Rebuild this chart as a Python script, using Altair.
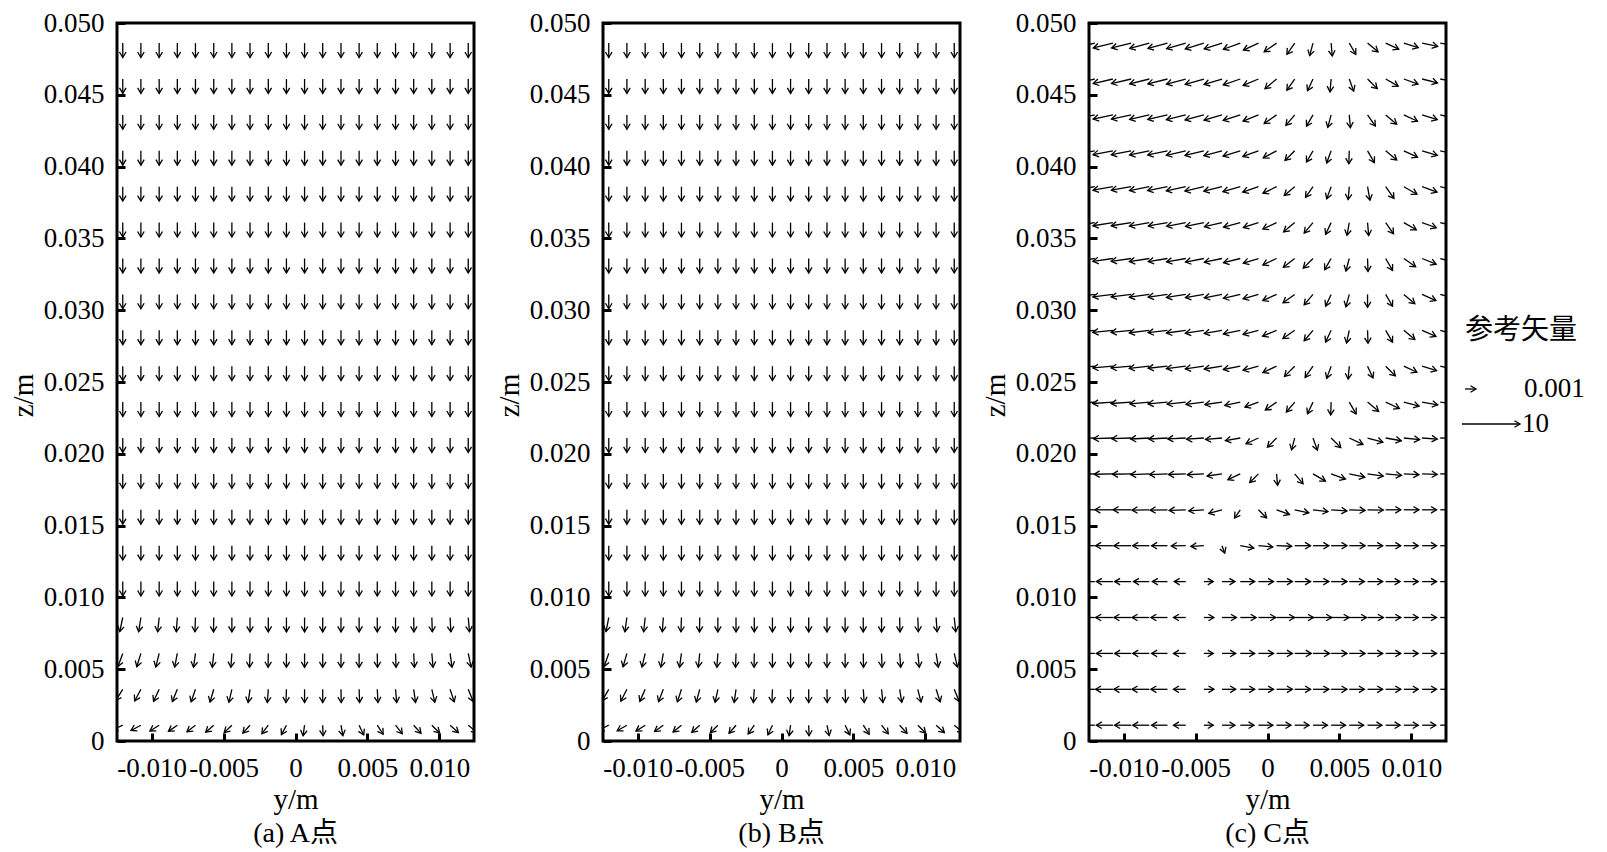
import altair as alt
import numpy as np
import pandas as pd

# ---------------- grid / axes ----------------
Y_COLS = [-0.01200, -0.01074, -0.00947, -0.00821, -0.00695, -0.00568, -0.00442, -0.00316, -0.00189, -0.00063,
          0.00063, 0.00189, 0.00316, 0.00442, 0.00568, 0.00695, 0.00821, 0.00947, 0.01074, 0.01200]
Z_ROWS = [0.0011, 0.0036, 0.0061, 0.0086, 0.0111, 0.0136, 0.0161, 0.0186, 0.0211, 0.0236,
          0.0261, 0.0286, 0.0311, 0.0336, 0.0361, 0.0386, 0.0411, 0.0436, 0.0461, 0.0486]
X_TICKS = [-0.010, -0.005, 0.0, 0.005, 0.010]
Z_TICKS = [0.0, 0.005, 0.010, 0.015, 0.020, 0.025, 0.030, 0.035, 0.040, 0.045, 0.050]
X_DOMAIN = [-0.0124, 0.0124]
Z_DOMAIN = [0.0, 0.05]
UNIT = 0.001  # plot length (m) of one unit of arrow magnitude

CAPTIONS = ["(a) A点", "(b) B点", "(c) C点"]
X_TITLE = "y/m"
Z_TITLE = "z/m"
LEGEND_TITLE = ["参考矢量"]
REF_LABELS = ["0.001", "10"]

# ---------------- vector directions (deg, 0 = +y, 90 = +z) and magnitudes ----------------
# rows listed from bottom (z = 0.0011) to top (z = 0.0486)
DOWN = [270, 270, 270, 270, 270, 270, 270, 270, 270, 270, 270, 270, 270, 270, 270, 270, 270, 270, 270, 270]
ONE = [1.0, 1.0, 1.0, 1.0, 1.0, 1.0, 1.0, 1.0, 1.0, 1.0, 1.0, 1.0, 1.0, 1.0, 1.0, 1.0, 1.0, 1.0, 1.0, 1.0]

A_ANG = [
    [205, 208, 212, 215, 218, 221, 224, 228, 233, 242, 262, 272, 280, 295, 303, 308, 312, 315, 318, 320],
    [238, 242, 245, 248, 251, 254, 257, 262, 266, 268, 270, 270, 271, 272, 273, 275, 278, 283, 288, 292],
    [250, 253, 256, 259, 262, 264, 266, 268, 269, 270, 270, 270, 270, 270, 271, 272, 273, 275, 278, 282],
    [258, 261, 264, 266, 268, 269, 270, 270, 270, 270, 270, 270, 270, 270, 270, 270, 271, 272, 273, 275],
] + [DOWN] * 16
A_LEN = [
    [0.80, 0.78, 0.76, 0.75, 0.75, 0.74, 0.74, 0.74, 0.74, 0.74, 0.74, 0.74, 0.74, 0.75, 0.75, 0.76, 0.76, 0.77, 0.78, 0.80],
    [0.92, 0.92, 0.92, 0.92, 0.92, 0.92, 0.92, 0.92, 0.92, 0.92, 0.92, 0.92, 0.92, 0.92, 0.92, 0.92, 0.92, 0.92, 0.92, 0.92],
    [0.97, 0.97, 0.97, 0.97, 0.97, 0.97, 0.97, 0.97, 0.97, 0.97, 0.97, 0.97, 0.97, 0.97, 0.97, 0.97, 0.97, 0.97, 0.97, 0.97],
] + [ONE] * 17

B_ANG = [
    [207, 210, 213, 216, 219, 222, 225, 229, 235, 245, 262, 272, 282, 296, 303, 308, 312, 315, 318, 321],
    [240, 243, 246, 249, 252, 255, 258, 262, 266, 268, 270, 270, 271, 272, 274, 276, 279, 284, 288, 292],
    [251, 254, 257, 260, 262, 264, 266, 268, 269, 270, 270, 270, 270, 270, 271, 272, 274, 276, 279, 283],
    [259, 262, 264, 266, 268, 269, 270, 270, 270, 270, 270, 270, 270, 270, 270, 270, 271, 272, 274, 276],
] + [DOWN] * 16
B_LEN = A_LEN

C_ANG = [
    [180, 180, 180, 180, 180, 180, 0, 0, 0, 0, 0, 0, 0, 0, 0, 0, 0, 0, 0, 0],
    [180, 180, 180, 180, 180, 180, 0, 0, 0, 0, 0, 0, 0, 0, 0, 0, 0, 0, 0, 0],
    [180, 180, 180, 180, 180, 180, 0, 0, 0, 0, 0, 0, 0, 0, 0, 0, 0, 0, 0, 0],
    [180, 180, 180, 180, 180, 180, 0, 0, 0, 0, 0, 0, 0, 0, 0, 0, 0, 0, 0, 0],
    [180, 180, 180, 180, 180, 180, 0, 0, 0, 0, 0, 0, 0, 0, 0, 0, 0, 0, 0, 0],
    [180, 180, 180, 180, 180, 181, 183, 290, 350, 355, 358, 0, 0, 0, 0, 0, 0, 0, 0, 0],
    [180, 180, 180, 181, 181, 182, 184, 195, 235, 315, 340, 348, 353, 356, 358, 359, 0, 0, 0, 0],
    [181, 181, 181, 182, 182, 182, 183, 188, 205, 225, 275, 310, 330, 340, 348, 352, 355, 357, 358, 359],
    [182, 182, 182, 183, 183, 183, 184, 185, 190, 205, 225, 255, 290, 315, 335, 345, 350, 354, 356, 358],
    [184, 184, 184, 185, 185, 186, 187, 188, 192, 200, 215, 230, 245, 268, 300, 320, 335, 345, 350, 352],
    [185, 185, 185, 186, 186, 187, 188, 189, 191, 195, 205, 225, 235, 250, 265, 295, 315, 335, 343, 347],
    [186, 186, 186, 187, 187, 188, 189, 190, 192, 195, 203, 215, 230, 245, 258, 272, 300, 320, 336, 344],
    [187, 187, 187, 188, 188, 189, 190, 191, 193, 196, 204, 216, 230, 245, 255, 270, 300, 320, 336, 344],
    [188, 188, 188, 189, 189, 190, 191, 192, 194, 197, 205, 218, 225, 240, 255, 272, 300, 325, 338, 345],
    [189, 189, 189, 190, 190, 191, 192, 193, 195, 198, 205, 220, 230, 245, 260, 275, 305, 330, 340, 346],
    [190, 190, 190, 191, 191, 192, 193, 194, 196, 199, 206, 220, 235, 250, 265, 280, 305, 330, 340, 346],
    [191, 191, 191, 192, 192, 193, 194, 195, 197, 200, 208, 225, 240, 250, 268, 300, 320, 335, 343, 347],
    [192, 192, 192, 193, 193, 194, 195, 196, 198, 202, 215, 230, 240, 255, 275, 305, 320, 335, 343, 347],
    [193, 193, 193, 194, 194, 195, 196, 197, 199, 203, 220, 235, 245, 265, 290, 315, 330, 340, 346, 349],
    [194, 194, 194, 195, 195, 196, 197, 198, 200, 205, 215, 235, 255, 275, 300, 320, 335, 343, 348, 350],
]
TOP_LEN = [1.40, 1.40, 1.40, 1.40, 1.40, 1.38, 1.35, 1.30, 1.25, 1.15, 1.05, 0.95, 0.90, 0.90, 0.90, 0.95, 1.00, 1.05, 1.10, 1.15]
MID_LEN = [1.40, 1.40, 1.40, 1.40, 1.35, 1.35, 1.30, 1.25, 1.20, 1.10, 1.05, 1.00, 0.95, 0.90, 0.90, 0.90, 0.95, 1.00, 1.05, 1.10]
C_LEN = [
    [1.15, 1.15, 1.15, 1.15, 1.10, 0.85, 0.65, 0.90, 0.95, 1.00, 1.00, 1.00, 1.00, 1.00, 1.00, 1.00, 1.00, 1.00, 0.95, 0.95],
    [1.20, 1.20, 1.20, 1.20, 1.15, 0.85, 0.70, 0.95, 1.00, 1.05, 1.10, 1.10, 1.10, 1.10, 1.05, 1.05, 1.05, 1.00, 1.00, 1.00],
    [1.15, 1.15, 1.15, 1.15, 1.10, 0.85, 0.65, 0.95, 1.00, 1.05, 1.10, 1.15, 1.15, 1.10, 1.10, 1.05, 1.05, 1.00, 1.00, 1.00],
    [1.20, 1.20, 1.20, 1.20, 1.15, 0.85, 0.70, 1.00, 1.10, 1.20, 1.25, 1.30, 1.30, 1.25, 1.20, 1.10, 1.05, 1.00, 1.00, 1.00],
    [1.15, 1.15, 1.15, 1.10, 1.05, 0.80, 0.65, 0.90, 1.00, 1.05, 1.10, 1.10, 1.10, 1.10, 1.05, 1.05, 1.00, 1.00, 1.00, 0.95],
    [1.20, 1.20, 1.20, 1.15, 1.10, 1.00, 0.90, 0.55, 0.95, 1.00, 1.05, 1.10, 1.10, 1.10, 1.10, 1.05, 1.05, 1.00, 1.00, 1.00],
    [1.25, 1.25, 1.25, 1.20, 1.20, 1.15, 1.05, 0.95, 0.70, 0.80, 0.95, 1.00, 1.05, 1.10, 1.10, 1.10, 1.05, 1.05, 1.00, 1.00],
    [1.30, 1.30, 1.30, 1.30, 1.25, 1.20, 1.15, 1.05, 0.95, 0.85, 0.80, 0.90, 1.00, 1.05, 1.10, 1.10, 1.10, 1.05, 1.05, 1.00],
    [1.35, 1.35, 1.35, 1.30, 1.30, 1.25, 1.20, 1.15, 1.05, 0.95, 0.90, 0.85, 0.90, 0.95, 1.05, 1.10, 1.10, 1.10, 1.05, 1.05],
    [1.40, 1.40, 1.40, 1.35, 1.35, 1.30, 1.25, 1.20, 1.10, 1.00, 0.95, 0.90, 0.90, 0.90, 0.95, 1.00, 1.05, 1.10, 1.10, 1.10],
    MID_LEN, MID_LEN, MID_LEN, MID_LEN, MID_LEN,
    TOP_LEN, TOP_LEN, TOP_LEN, TOP_LEN, TOP_LEN,
]

HEAD = "M-1,-0.6L0,0L-1,0.6"
FONT = "Liberation Serif, Noto Sans CJK SC"
FS = 27
SW = 1.3


def vectors(ang_rows, len_rows):
    recs = []
    for j, z in enumerate(Z_ROWS):
        for i, y in enumerate(Y_COLS):
            a = ang_rows[j][i]
            L = len_rows[j][i] * UNIT
            r = np.deg2rad(a)
            recs.append(dict(y0=y, z0=z, y1=y + L * np.cos(r), z1=z + L * np.sin(r),
                             rot=(360 - a) % 360))
    return pd.DataFrame(recs)


x_axis = alt.Axis(values=X_TICKS, grid=False, domain=False, tickColor="black", tickWidth=3,
                  tickSize={"expr": "-8"}, labelFont=FONT, labelFontSize=FS, labelColor="black",
                  labelPadding=22, labelOverlap=False,
                  labelExpr="datum.value == 0 ? '0' : (datum.value < 0 ? '-' : '') + format(abs(datum.value), '.3f')",
                  titleFont=FONT, titleFontSize=29, titleFontWeight="normal", titleColor="black",
                  titlePadding=4)
z_axis = alt.Axis(values=Z_TICKS, grid=False, domain=False, tickColor="black", tickWidth=3,
                  tickSize={"expr": "-8"}, labelFont=FONT, labelFontSize=FS, labelColor="black",
                  labelPadding=21, labelOverlap=False,
                  labelExpr="datum.value == 0 ? '0' : format(datum.value, '.3f')",
                  titleFont=FONT, titleFontSize=29, titleFontWeight="normal", titleColor="black",
                  titlePadding=5, titleY=372)
xs = alt.Scale(domain=X_DOMAIN, nice=False, zero=False)
zs = alt.Scale(domain=Z_DOMAIN, nice=False, zero=False)


def panel(ang_rows, len_rows, caption, legend=False):
    df = vectors(ang_rows, len_rows)
    base = alt.Chart(df)
    shafts = base.mark_rule(color="black", strokeWidth=SW, clip=True).encode(
        x=alt.X("y0:Q", scale=xs, axis=x_axis, title=X_TITLE),
        y=alt.Y("z0:Q", scale=zs, axis=z_axis, title=Z_TITLE),
        x2="y1:Q", y2="z1:Q")
    heads = base.mark_point(shape=HEAD, filled=False, size=120, color="black", strokeWidth=SW,
                            opacity=1, clip=True).encode(
        x=alt.X("y1:Q", title=X_TITLE), y=alt.Y("z1:Q", title=Z_TITLE),
        angle=alt.Angle("rot:Q", scale=None))
    layers = [shafts, heads]
    if legend:
        t = alt.Chart(pd.DataFrame({"t": LEGEND_TITLE})).mark_text(
            align="left", baseline="middle", font="Noto Sans CJK SC", fontSize=28, color="black").encode(
            text="t:N", x=alt.value(376), y=alt.value(308))
        lab = pd.DataFrame({"t": REF_LABELS, "k": [0, 1]})
        l1 = alt.Chart(lab).transform_filter("datum.k == 0").mark_text(
            align="left", baseline="middle", font=FONT, fontSize=FS, color="black").encode(
            text="t:N", x=alt.value(435), y=alt.value(366))
        l2 = alt.Chart(lab).transform_filter("datum.k == 1").mark_text(
            align="left", baseline="middle", font=FONT, fontSize=FS, color="black").encode(
            text="t:N", x=alt.value(433), y=alt.value(401))
        r1 = alt.Chart(lab).transform_filter("datum.k == 0").mark_rule(color="black", strokeWidth=SW).encode(
            x=alt.value(376), x2=alt.value(387), y=alt.value(366))
        h1 = alt.Chart(lab).transform_filter("datum.k == 0").mark_point(
            shape=HEAD, filled=False, size=120, color="black", strokeWidth=SW, opacity=1).encode(
            x=alt.value(387), y=alt.value(366))
        r2 = alt.Chart(lab).transform_filter("datum.k == 1").mark_rule(color="black", strokeWidth=SW).encode(
            x=alt.value(373), x2=alt.value(431), y=alt.value(401))
        h2 = alt.Chart(lab).transform_filter("datum.k == 1").mark_point(
            shape=HEAD, filled=False, size=120, color="black", strokeWidth=SW, opacity=1).encode(
            x=alt.value(431), y=alt.value(401))
        layers += [t, l1, l2, r1, h1, r2, h2]
    return alt.layer(*layers).properties(
        width=357, height=718,
        title=alt.TitleParams(caption, orient="bottom", font=FONT, fontSize=28, fontWeight="normal",
                              color="black", offset=6, frame="group", anchor="middle"))


chart = alt.hconcat(
    panel(A_ANG, A_LEN, CAPTIONS[0]),
    panel(B_ANG, B_LEN, CAPTIONS[1]),
    panel(C_ANG, C_LEN, CAPTIONS[2], legend=True),
    spacing=17,
).properties(
    padding={"left": -1, "top": -1, "right": 5, "bottom": 5},
    background="white",
).configure_view(stroke="black", strokeWidth=3)

chart.save("out.html", embed_options={"renderer": "svg", "actions": False})
